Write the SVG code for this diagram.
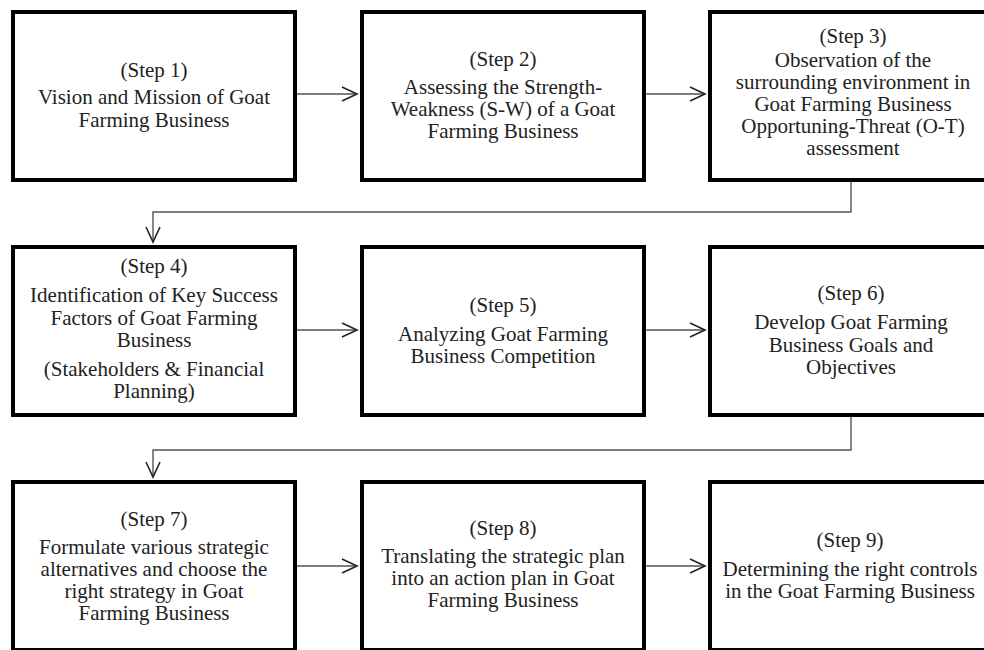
<svg xmlns="http://www.w3.org/2000/svg" width="984" height="650" viewBox="0 0 984 650">
<defs>
<style>
.box{fill:#fff;stroke:#000;stroke-width:4}
.t{font-family:"Liberation Serif","Times New Roman",serif;font-size:21px;fill:#222;text-anchor:middle}
.c{fill:none;stroke:#555;stroke-width:1.4}
</style>
<marker id="ah" markerUnits="userSpaceOnUse" markerWidth="20" markerHeight="20" refX="16" refY="8" orient="auto">
<path d="M1,1 L16,8 L1,15" fill="none" stroke="#222" stroke-width="1.6"/>
</marker>
</defs>
<rect width="984" height="650" fill="#fff"/>
<g id="connectors">
<line class="c" x1="297" y1="94" x2="357" y2="94" marker-end="url(#ah)"/>
<line class="c" x1="645" y1="94" x2="705" y2="94" marker-end="url(#ah)"/>
<path class="c" d="M851,182 V212 H153 V242" marker-end="url(#ah)"/>
<line class="c" x1="297" y1="330" x2="357" y2="330" marker-end="url(#ah)"/>
<line class="c" x1="645" y1="330" x2="705" y2="330" marker-end="url(#ah)"/>
<path class="c" d="M851,417 V450 H153 V477" marker-end="url(#ah)"/>
<line class="c" x1="297" y1="566" x2="357" y2="566" marker-end="url(#ah)"/>
<line class="c" x1="645" y1="566" x2="705" y2="566" marker-end="url(#ah)"/>
</g>
<g id="step1">
<rect class="box" x="13" y="12" width="282" height="168"/>
<text class="t"><tspan x="154" y="77">(Step 1)</tspan><tspan x="154" y="104">Vision and Mission of Goat</tspan><tspan x="154" y="127">Farming Business</tspan></text>
</g>
<g id="step2">
<rect class="box" x="362" y="12" width="282" height="168"/>
<text class="t"><tspan x="503" y="66">(Step 2)</tspan><tspan x="503" y="94">Assessing the Strength-</tspan><tspan x="503" y="116">Weakness (S-W) of a Goat</tspan><tspan x="503" y="138">Farming Business</tspan></text>
</g>
<g id="step3">
<rect class="box" x="710" y="12" width="282" height="168"/>
<text class="t"><tspan x="853" y="43">(Step 3)</tspan><tspan x="853" y="67">Observation of the</tspan><tspan x="853" y="89">surrounding environment in</tspan><tspan x="853" y="111">Goat Farming Business</tspan><tspan x="853" y="133">Opportuning-Threat (O-T)</tspan><tspan x="853" y="155">assessment</tspan></text>
</g>
<g id="step4">
<rect class="box" x="13" y="247" width="282" height="168"/>
<text class="t"><tspan x="154" y="273">(Step 4)</tspan><tspan x="154" y="302">Identification of Key Success</tspan><tspan x="154" y="325">Factors of Goat Farming</tspan><tspan x="154" y="347">Business</tspan><tspan x="154" y="376">(Stakeholders &amp; Financial</tspan><tspan x="154" y="398">Planning)</tspan></text>
</g>
<g id="step5">
<rect class="box" x="362" y="247" width="282" height="168"/>
<text class="t"><tspan x="503" y="312">(Step 5)</tspan><tspan x="503" y="341">Analyzing Goat Farming</tspan><tspan x="503" y="363">Business Competition</tspan></text>
</g>
<g id="step6">
<rect class="box" x="710" y="247" width="282" height="168"/>
<text class="t"><tspan x="851" y="300">(Step 6)</tspan><tspan x="851" y="329">Develop Goat Farming</tspan><tspan x="851" y="352">Business Goals and</tspan><tspan x="851" y="374">Objectives</tspan></text>
</g>
<g id="step7">
<rect class="box" x="13" y="482" width="282" height="168"/>
<text class="t"><tspan x="154" y="526">(Step 7)</tspan><tspan x="154" y="554">Formulate various strategic</tspan><tspan x="154" y="576">alternatives and choose the</tspan><tspan x="154" y="598">right strategy in Goat</tspan><tspan x="154" y="620">Farming Business</tspan></text>
</g>
<g id="step8">
<rect class="box" x="362" y="482" width="282" height="168"/>
<text class="t"><tspan x="503" y="535">(Step 8)</tspan><tspan x="503" y="563">Translating the strategic plan</tspan><tspan x="503" y="585">into an action plan in Goat</tspan><tspan x="503" y="607">Farming Business</tspan></text>
</g>
<g id="step9">
<rect class="box" x="710" y="482" width="282" height="168"/>
<text class="t"><tspan x="850" y="547">(Step 9)</tspan><tspan x="850" y="576">Determining the right controls</tspan><tspan x="850" y="598">in the Goat Farming Business</tspan></text>
</g>
</svg>
